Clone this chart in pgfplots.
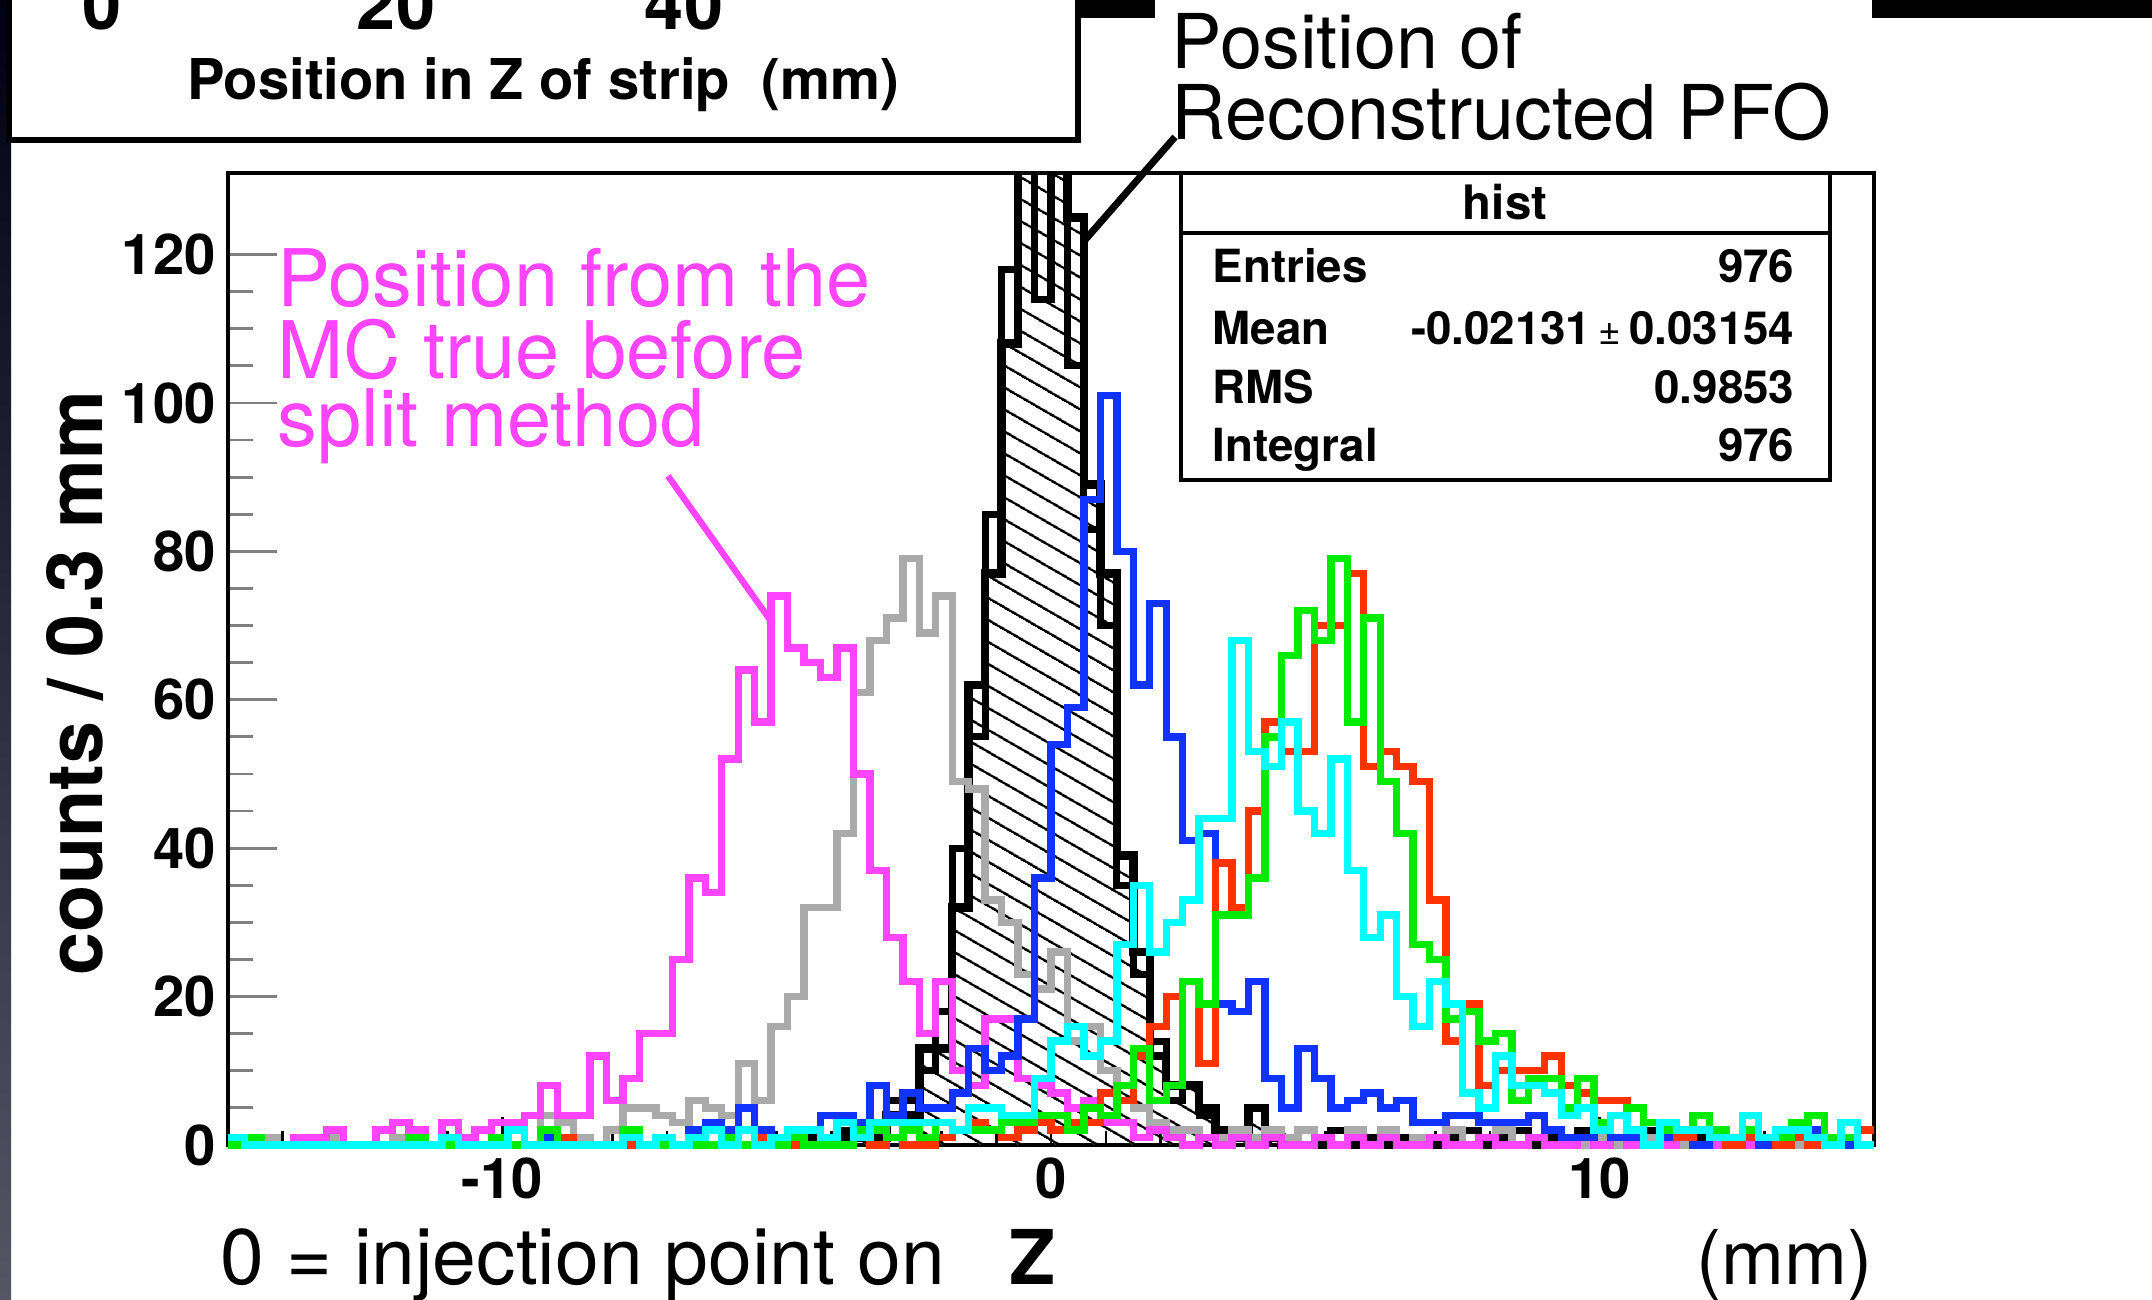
\documentclass[border=0pt]{standalone}
\usepackage{pgfplots}
\pgfplotsset{compat=1.18}
\usepackage{pgfplotstable}
\usetikzlibrary{patterns.meta}
\usepackage{fontspec}
\setmainfont{TeX Gyre Heros}
\definecolor{magC}{RGB}{255,68,255}
\definecolor{grayC}{RGB}{170,170,170}
\definecolor{blueC}{RGB}{16,51,255}
\definecolor{cyanC}{RGB}{0,255,255}
\definecolor{redC}{RGB}{255,51,0}
\definecolor{greenC}{RGB}{0,235,0}
\definecolor{stripTop}{RGB}{0,0,20}
\definecolor{stripBot}{RGB}{85,85,100}
\newcommand{\hb}[1]{\fontsize{#1}{#1}\selectfont\bfseries}
\newcommand{\hr}[1]{\fontsize{#1}{#1}\selectfont}

\pgfplotstableread{
x M G H K B C R N
-15.0 0 0 0 0 0 1 0 0
-14.7 0 1 0 0 0 0 0 1
-14.4 0 1 0 0 0 0 0 0
-14.1 0 0 0 0 0 0 0 0
-13.8 1 0 0 0 0 0 0 0
-13.5 1 0 0 0 0 0 0 0
-13.2 2 1 0 0 0 0 0 0
-12.9 0 0 0 0 0 0 0 0
-12.6 0 0 0 0 0 0 0 0
-12.3 2 0 0 0 0 0 0 0
-12.0 3 1 0 0 0 0 0 0
-11.7 2 0 0 0 0 0 0 1
-11.4 0 0 0 0 0 0 0 0
-11.1 3 1 0 1 0 1 0 0
-10.8 1 0 0 0 0 0 0 0
-10.5 2 0 0 0 0 0 0 0
-10.2 3 0 0 0 0 0 0 1
-9.9 3 0 0 0 0 2 0 0
-9.6 4 0 0 0 0 0 0 0
-9.3 8 4 0 0 1 0 0 2
-9.0 4 3 0 1 0 0 1 0
-8.7 4 1 0 0 0 0 0 0
-8.4 12 0 0 0 0 0 0 0
-8.1 6 2 0 0 0 0 0 0
-7.8 9 5 0 0 0 1 0 2
-7.5 15 5 0 0 0 0 0 0
-7.2 15 4 0 1 0 1 0 0
-6.9 25 3 0 0 0 0 0 0
-6.6 36 6 0 0 2 1 0 0
-6.3 34 5 0 0 3 2 0 0
-6.0 52 4 0 1 2 0 0 1
-5.7 64 11 0 0 5 2 0 0
-5.4 57 6 0 0 2 0 1 0
-5.1 74 16 0 1 1 1 0 0
-4.8 67 20 0 0 1 2 0 1
-4.5 65 32 0 1 2 2 0 0
-4.2 63 32 0 1 4 1 0 0
-3.9 67 42 1 2 4 3 0 0
-3.6 50 61 1 2 3 1 1 2
-3.3 37 68 1 3 8 3 0 2
-3.0 28 71 4 6 4 3 1 1
-2.7 22 79 4 6 7 3 0 2
-2.4 15 69 13 10 5 3 0 1
-2.1 22 74 13 18 5 3 1 3
-1.8 10 49 32 40 7 2 2 2
-1.5 8 48 62 55 13 5 3 2
-1.2 17 33 77 85 10 5 2 2
-0.9 17 30 108 118 12 4 1 3
-0.6 9 23 140 140 17 4 2 3
-0.3 8 21 140 114 36 9 3 4
0.0 7 26 140 140 54 14 2 4
0.3 5 14 125 105 59 16 3 2
0.6 6 16 89 83 87 12 3 5
0.9 3 10 77 70 101 14 7 4
1.2 3 8 39 35 80 27 6 8
1.5 1 5 26 23 62 35 12 13
1.8 2 3 12 14 73 26 16 6
2.1 1 2 8 6 55 30 20 8
2.4 0 2 8 8 41 33 22 22
2.7 1 1 5 4 42 44 11 19
3.0 0 1 2 1 19 44 38 31
3.3 1 2 1 1 18 68 32 31
3.6 0 1 5 5 22 53 45 36
3.9 1 2 1 1 9 51 57 55
4.2 0 1 0 1 5 57 53 66
4.5 0 2 0 2 13 45 53 72
4.8 1 1 0 1 9 42 70 68
5.1 0 0 0 2 5 52 70 79
5.4 1 2 0 1 6 37 77 57
5.7 0 0 0 1 7 28 51 71
6.0 1 2 0 2 5 31 53 49
6.3 0 0 0 1 6 20 51 42
6.6 0 1 0 1 3 16 49 27
6.9 1 1 0 1 3 22 33 25
7.2 0 2 0 1 4 19 14 17
7.5 0 0 0 2 4 7 19 18
7.8 1 1 0 1 3 5 8 14
8.1 0 2 0 1 3 12 10 15
8.4 0 0 0 2 3 8 10 6
8.7 1 1 0 1 4 8 10 9
9.0 0 0 0 1 2 7 12 9
9.3 0 1 0 1 1 4 8 5
9.6 1 0 0 2 1 5 7 9
9.9 0 1 0 1 2 2 6 3
10.2 1 0 0 1 1 4 6 4
10.5 0 0 0 1 1 2 5 5
10.8 0 1 0 2 0 0 3 3
11.1 0 0 0 1 1 3 2 2
11.4 1 0 0 1 1 2 1 2
11.7 0 0 0 1 0 2 2 4
12.0 0 1 0 2 1 1 1 2
12.3 1 0 0 1 0 1 0 1
12.6 0 0 0 1 1 4 1 2
12.9 0 0 0 1 0 1 1 1
13.2 0 0 0 1 1 2 0 1
13.5 1 0 0 1 2 2 1 3
13.8 0 1 0 1 2 1 0 4
14.1 1 0 0 1 1 0 1 1
14.4 0 0 0 1 0 3 1 1
14.7 0 0 0 2 0 0 2 0
15.0 0 0 0 2 0 0 2 0
}\hdata

\begin{document}
\begin{tikzpicture}[x=1cm,y=1cm]
\useasboundingbox (0,0) rectangle (21.52,13);
\fill[white] (0,0) rectangle (21.52,13);
\begin{scope}
\clip (0,0) rectangle (21.52,13);
% remnants of the slide above
\shade[top color=stripTop, bottom color=stripBot] (0,0) rectangle (0.11,13);
\draw[line width=1.5pt] (0.09,13.5) -- (0.09,11.60) -- (10.78,11.60) -- (10.78,13.5);
\fill[black] (10.78,12.82) rectangle (11.55,13.2);
\fill[black] (18.72,12.82) rectangle (21.6,13.2);
\node[font=\hb{20}, anchor=base] at (1.02,12.70) {0};
\node[font=\hb{20}, anchor=base] at (3.96,12.70) {20};
\node[font=\hb{20}, anchor=base] at (6.84,12.70) {40};
\end{scope}
\node[font=\hb{16}, anchor=base] at (5.43,12.00) {Position in Z of strip~~(mm)};

% x-axis ticks (drawn under the histograms)
\foreach \z in {-14,-13,...,14} \draw[line width=0.8pt] ({2.28+0.5487*(\z+15)},1.55) -- ++(0,0.14);
\foreach \z in {-10,0,10} \draw[line width=0.8pt] ({2.28+0.5487*(\z+15)},1.55) -- ++(0,0.28);

\begin{axis}[
  at={(2.28cm,1.55cm)}, anchor=south west,
  width=16.46cm, height=9.72cm, scale only axis,
  xmin=-15, xmax=15, ymin=0, ymax=131,
  clip=false,
  axis line style={line width=0.9pt},
  tick align=inside, tick pos=left,
  xtick={-10,0,10}, xticklabels={-10,0,10},
  xtick style={draw=none}, minor x tick num=0,
  ytick={0,20,40,60,80,100,120}, yticklabels={0,20,40,60,80,100,120},
  minor y tick num=3,
  major tick length=4.9mm, minor tick length=2.5mm,
  ytick style={line width=0.8pt},
  /pgf/number format/assume math mode=true,
  ticklabel style={font=\hb{16}},
]
% clip only at the top of the frame, so that lines at zero keep their full width
\clip (rel axis cs:-0.01,-0.05) rectangle (rel axis cs:1.01,1);
% hatched fill of the main histogram (only over its support)
\addplot[const plot, draw=none, pattern={Lines[angle=-30,distance=5.4pt,line width=0.8pt]}, pattern color=black, restrict x to domain=-4.3:4.3] table[x=x,y=H]{\hdata} \closedcycle;
\addplot[const plot, draw=black, line width=2.4pt] table[x=x,y=H]{\hdata};
\addplot[const plot, draw=black, line width=2pt] table[x=x,y=K]{\hdata};
\addplot[const plot, draw=grayC, line width=2.1pt] table[x=x,y=G]{\hdata};
\addplot[const plot, draw=magC, line width=2.1pt] table[x=x,y=M]{\hdata};
\addplot[const plot, draw=blueC, line width=2.1pt] table[x=x,y=B]{\hdata};
\addplot[const plot, draw=redC, line width=2.1pt] table[x=x,y=R]{\hdata};
\addplot[const plot, draw=greenC, line width=2.1pt] table[x=x,y=N]{\hdata};
\addplot[const plot, draw=cyanC, line width=2.1pt] table[x=x,y=C]{\hdata};
\end{axis}
% restore the top frame line over the clipped peak
\draw[line width=0.9pt] (2.28,11.27) -- (18.74,11.27);

% y label
\node[rotate=90, anchor=base, font=\hb{22}] at (1.02,6.17) {counts / 0.3 mm};

% statistics box
\draw[line width=0.9pt, fill=white] (11.81,8.20) rectangle (18.30,11.27);
\draw[line width=0.9pt] (11.81,10.67) -- (18.30,10.67);
\begin{scope}[every node/.style={inner sep=0pt, font=\hb{13}}]
\node[font=\hb{13.5}, anchor=base] at (15.05,10.80) {hist};
\node[anchor=base west] at (12.12,10.17) {Entries};
\node[anchor=base east] at (17.95,10.17) {976};
\node[anchor=base west] at (12.12,9.55) {Mean};
\node[anchor=base east] at (17.95,9.55) {-0.02131\,{\mdseries\fontsize{11}{11}\selectfont ±}\,0.03154};
\node[anchor=base west] at (12.12,8.96) {RMS};
\node[anchor=base east] at (17.95,8.96) {0.9853};
\node[anchor=base west] at (12.12,8.38) {Integral};
\node[anchor=base east] at (17.95,8.38) {976};
\end{scope}

% annotations
\node[font=\hr{21.5}, anchor=base west, inner sep=0pt] at (11.71,12.31) {Position of};
\node[font=\hr{21.5}, anchor=base west, inner sep=0pt] at (11.71,11.60) {Reconstructed PFO};
\draw[line width=2pt] (11.75,11.63) -- (10.85,10.60);

\node[font=\hr{22.6}, text=magC, anchor=base west, inner sep=0pt] at (2.77,9.93) {Position from the};
\node[font=\hr{22.6}, text=magC, anchor=base west, inner sep=0pt] at (2.77,9.21) {MC true before};
\node[font=\hr{22.6}, text=magC, anchor=base west, inner sep=0pt] at (2.77,8.53) {split method};
\draw[magC, line width=1.8pt] (6.68,8.24) -- (7.73,6.76);

\node[font=\hr{22.4}, anchor=base west, inner sep=0pt] at (2.20,0.15) {0 = injection point on};
\node[font=\hb{21.5}, anchor=base west, inner sep=0pt] at (10.09,0.15) {Z};
\node[font=\hr{21.5}, anchor=base east, inner sep=0pt] at (18.73,0.15) {(mm)};
\end{tikzpicture}
\end{document}
